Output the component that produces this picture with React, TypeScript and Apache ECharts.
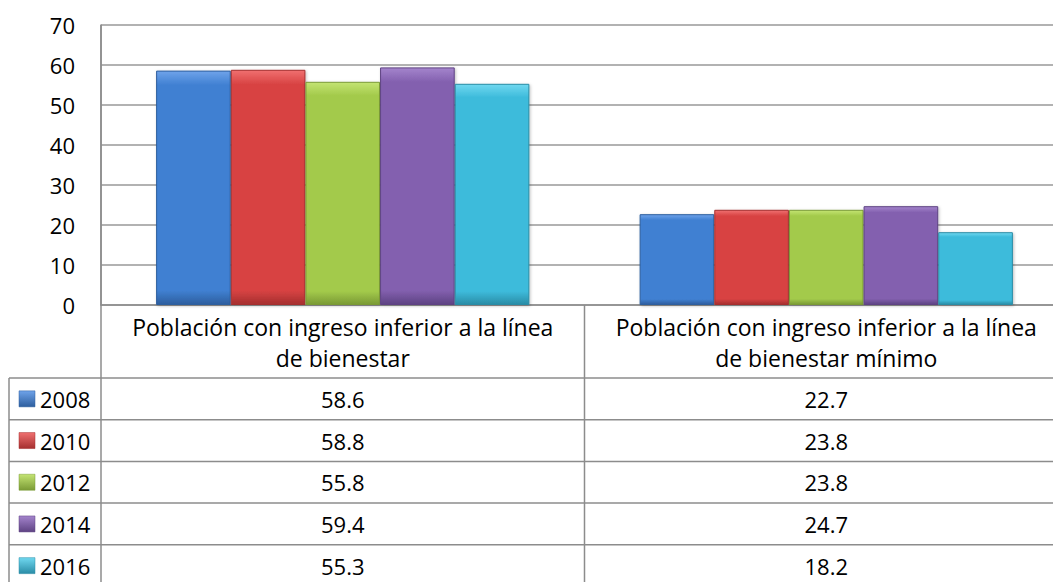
import React, { useEffect, useRef } from "react";
import * as echarts from "echarts";

const categories = [
  "Población con ingreso inferior a la línea\nde bienestar",
  "Población con ingreso inferior a la línea\nde bienestar mínimo",
];
const years = ["2008", "2010", "2012", "2014", "2016"];
const v2008 = [58.6, 22.7];
const v2010 = [58.8, 23.8];
const v2012 = [55.8, 23.8];
const v2014 = [59.4, 24.7];
const v2016 = [55.3, 18.2];
const seriesValues = [v2008, v2010, v2012, v2014, v2016];

const colors = ["#4080D2", "#D84343", "#A3CA4B", "#8360AF", "#3DBBDB"];
const lightColors = ["#6FA3EA", "#F07070", "#C4E473", "#A484CC", "#70D8F0"];
const darkColors = ["#2D5E9E", "#A52F2F", "#7A9A35", "#5E4383", "#2A8CA6"];

const FONT = "'Open Sans', 'Noto Sans', sans-serif";
const FS = 22;
const FS_CAT = 23;
const CHART_W = 1068;
const GRID_LEFT = 101;
const GRID_TOP = 25;
const AXIS_Y = 305;
const TABLE_TOP = 378;
const ROW_H = 41.7;
const TABLE_LEFT = 9;
const COL_W = (CHART_W - GRID_LEFT) / 2;
const LINE_COLOR = "#8c8c8c";

export default function App() {
  const ref = useRef<HTMLDivElement>(null);
  useEffect(() => {
    if (!ref.current) return;
    const chart = echarts.init(ref.current, null, { renderer: "svg" });
    const graphics: any[] = [];
    const line = (x1: number, y1: number, x2: number, y2: number) =>
      graphics.push({
        type: "line",
        shape: { x1, y1, x2, y2 },
        style: { stroke: LINE_COLOR, lineWidth: 1.5 },
        z: 10,
      });
    line(GRID_LEFT, GRID_TOP, GRID_LEFT, 582);
    line(TABLE_LEFT, TABLE_TOP, TABLE_LEFT, 582);
    line(GRID_LEFT + COL_W, AXIS_Y, GRID_LEFT + COL_W, 582);
    for (let i = 0; i <= years.length; i++) {
      const y = TABLE_TOP + i * ROW_H;
      line(TABLE_LEFT, y, CHART_W, y);
    }
    years.forEach((yr, i) => {
      const cy = TABLE_TOP + i * ROW_H + ROW_H / 2;
      graphics.push({
        type: "rect",
        shape: { x: 19, y: cy - 8, width: 16, height: 16 },
        style: {
          fill: new echarts.graphic.LinearGradient(0, 0, 0, 1, [
            { offset: 0, color: lightColors[i] },
            { offset: 1, color: darkColors[i] },
          ]),
          stroke: darkColors[i],
          lineWidth: 0.5,
        },
        z: 11,
      });
      graphics.push({
        type: "text",
        x: 40,
        y: cy,
        style: {
          text: yr,
          font: `${FS}px ${FONT}`,
          fill: "#000",
          verticalAlign: "middle",
          align: "left",
        },
        z: 11,
      });
      seriesValues[i].forEach((v, j) => {
        graphics.push({
          type: "text",
          x: GRID_LEFT + COL_W * j + COL_W / 2,
          y: cy,
          style: {
            text: v.toFixed(1),
            font: `${FS}px ${FONT}`,
            fill: "#000",
            verticalAlign: "middle",
            align: "center",
          },
          z: 11,
        });
      });
    });

    chart.setOption({
      animation: false,
      grid: {
        left: GRID_LEFT,
        right: 0,
        top: GRID_TOP,
        bottom: 582 - AXIS_Y,
        containLabel: false,
      },
      xAxis: {
        type: "category",
        data: categories,
        axisLine: { show: true, lineStyle: { color: LINE_COLOR, width: 1.5 } },
        axisTick: { show: false },
        axisLabel: {
          color: "#000",
          fontSize: FS_CAT,
          fontFamily: FONT,
          lineHeight: 31,
          margin: 6,
          interval: 0,
          align: "center",
        },
      },
      yAxis: {
        type: "value",
        min: 0,
        max: 70,
        interval: 10,
        axisLine: { show: true, lineStyle: { color: LINE_COLOR, width: 1.5 } },
        axisTick: { show: false },
        splitLine: { lineStyle: { color: "#999", width: 1.5 } },
        axisLabel: {
          color: "#000",
          fontSize: FS,
          fontFamily: FONT,
          margin: 26,
        },
      },
      series: years.map((yr, i) => ({
        name: yr,
        type: "bar",
        data: seriesValues[i],
        barGap: "0%",
        barCategoryGap: "22.8%",
        itemStyle: {
          color: new echarts.graphic.LinearGradient(0, 0, 0, 1, [
            { offset: 0, color: lightColors[i] },
            { offset: 0.06, color: colors[i] },
            { offset: 0.94, color: colors[i] },
            { offset: 1, color: darkColors[i] },
          ]),
          borderColor: darkColors[i],
          borderWidth: 1,
          shadowColor: "rgba(0,0,0,0.25)",
          shadowBlur: 3,
          shadowOffsetX: 1,
          shadowOffsetY: 1,
        },
      })),
      graphic: graphics,
    });
    return () => chart.dispose();
  }, []);
  return (
    <div style={{ position: "absolute", left: 0, top: 0, width: 1053, height: 582, overflow: "hidden", background: "#fff" }}>
      <div ref={ref} style={{ width: CHART_W, height: 582 }} />
    </div>
  );
}
